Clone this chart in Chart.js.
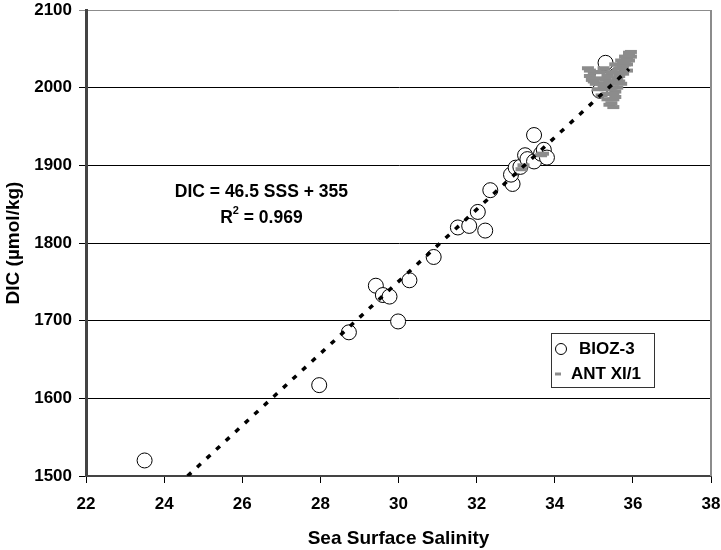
<!DOCTYPE html>
<html>
<head>
<meta charset="utf-8">
<script src="https://cdn.jsdelivr.net/npm/chart.js@4.4.1/dist/chart.umd.min.js"></script>
<style>
html, body { margin: 0; padding: 0; background: #fff; }
</style>
</head>
<body>
<canvas id="chart" width="721" height="550"></canvas>
<script>
// BIOZ-3 stations (open circles)
const biozSss = [23.5, 27.97, 28.73, 29.42, 29.6, 29.77, 29.99, 30.28, 30.9, 31.52, 31.81, 32.03, 32.22, 32.35,
    32.92, 32.88, 33.0, 33.12, 33.24, 33.3, 33.47, 33.47, 33.65, 33.72, 33.8, 35.3, 35.2, 35.55, 35.15];
const biozDic = [1520, 1617, 1685, 1745, 1733, 1731, 1699, 1752, 1782, 1820, 1822, 1840, 1816, 1868,
    1876, 1888, 1897, 1898, 1913, 1908, 1939, 1905, 1915, 1920, 1910, 2032, 2012, 2015, 1996];

// ANT XI/1 underway data (grey dashes)
const antSss = [34.85, 34.9, 34.95, 35.0, 35.05, 35.1, 35.1, 35.15, 35.2, 35.2, 35.25, 35.3, 35.3, 35.35, 35.35,
    35.4, 35.4, 35.45, 35.45, 35.5, 35.5, 35.55, 35.55, 35.6, 35.6, 35.65, 35.65, 35.7, 35.7, 35.75, 35.75,
    35.8, 35.8, 35.85, 35.85, 35.9, 35.9, 35.95, 35.4, 35.5, 35.45, 33.15, 33.2, 33.65, 33.7,
    34.9, 35.0, 35.25, 35.35, 35.45, 35.5, 35.6, 35.7, 35.8, 35.85, 35.9, 35.55, 35.65, 35.75, 35.95];
const antDic = [2025, 2015, 2010, 2020, 2005, 2012, 1998, 2020, 2005, 1990, 2025, 2010, 1998, 1985, 2015,
    1978, 2000, 1992, 2020, 1985, 2005, 2030, 1995, 2012, 2000, 2025, 2015, 2035, 2005, 2028, 2018,
    2040, 2030, 2038, 2022, 2045, 2035, 2040, 2008, 1975, 1980, 1895, 1900, 1913, 1915,
    2022, 2008, 2002, 1992, 2000, 1992, 2020, 2025, 2035, 2030, 2042, 1988, 2008, 2032, 2046];

// regression line end points: DIC = 46.5 SSS + 355
const trendSss = [24.6, 35.9];
const trendDic = [1500, 2024];

const FONT = "'Liberation Sans', Arial, sans-serif";

const toXY = (xs, ys) => xs.map((v, i) => ({x: v, y: ys[i]}));

const extras = {
    id: 'extras',
    afterDraw(chart) {
        const {ctx, chartArea: a, scales: {x, y}} = chart;
        ctx.save();
        // right border of plot area
        ctx.strokeStyle = '#8c8c8c';
        ctx.lineWidth = 2;
        ctx.beginPath();
        ctx.moveTo(a.right, a.top);
        ctx.lineTo(a.right, a.bottom);
        ctx.stroke();

        // equation text
        ctx.fillStyle = '#000';
        ctx.textBaseline = 'middle';
        ctx.textAlign = 'center';
        ctx.font = 'bold 17.5px ' + FONT;
        const cx = x.getPixelForValue(26.49);
        ctx.fillText('DIC = 46.5 SSS + 355', cx, y.getPixelForValue(1866));
        const ry = y.getPixelForValue(1832);
        const p1 = 'R', p3 = ' = 0.969';
        ctx.textAlign = 'left';
        const w1 = ctx.measureText(p1).width, w3 = ctx.measureText(p3).width;
        ctx.font = 'bold 11px ' + FONT;
        const w2 = ctx.measureText('2').width;
        let sx = cx - (w1 + w2 + w3) / 2;
        ctx.font = 'bold 17.5px ' + FONT;
        ctx.fillText(p1, sx, ry);
        ctx.font = 'bold 11px ' + FONT;
        ctx.fillText('2', sx + w1, ry - 7);
        ctx.font = 'bold 17.5px ' + FONT;
        ctx.fillText(p3, sx + w1 + w2, ry);

        // legend box
        const lx = a.right - 160, ly = a.top + 323;
        ctx.strokeStyle = '#333';
        ctx.lineWidth = 1;
        ctx.strokeRect(lx + 0.5, ly + 0.5, 103, 54);
        ctx.beginPath();
        ctx.arc(lx + 10, ly + 16, 5.5, 0, Math.PI * 2);
        ctx.strokeStyle = '#000';
        ctx.stroke();
        ctx.strokeStyle = '#8c8c8c';
        ctx.lineWidth = 3;
        ctx.beginPath();
        ctx.moveTo(lx + 4, ly + 41);
        ctx.lineTo(lx + 10, ly + 41);
        ctx.stroke();
        ctx.fillStyle = '#000';
        ctx.font = 'bold 17px ' + FONT;
        ctx.textAlign = 'left';
        ctx.fillText('BIOZ-3', lx + 28, ly + 16);
        ctx.fillText('ANT XI/1', lx + 20, ly + 41);
        ctx.restore();
    }
};

new Chart(document.getElementById('chart'), {
    type: 'scatter',
    data: {
        datasets: [{
            type: 'line',
            label: 'fit',
            data: toXY(trendSss, trendDic),
            borderColor: '#000',
            borderWidth: 3.5,
            borderDash: [5, 8],
            pointRadius: 0,
            fill: false,
            order: 0
        }, {
            label: 'ANT XI/1',
            data: toXY(antSss, antDic),
            pointStyle: 'line',
            pointRadius: 6,
            borderWidth: 4,
            borderColor: '#8c8c8c',
            backgroundColor: '#8c8c8c',
            order: 1
        }, {
            label: 'BIOZ-3',
            data: toXY(biozSss, biozDic),
            pointStyle: 'circle',
            pointRadius: 7.5,
            borderWidth: 1,
            borderColor: '#000',
            backgroundColor: '#fff',
            order: 2
        }]
    },
    options: {
        responsive: false,
        animation: false,
        layout: {padding: {top: 10, right: 8, left: 0, bottom: 0}},
        plugins: {legend: {display: false}, tooltip: {enabled: false}},
        scales: {
            x: {
                type: 'linear',
                min: 22,
                max: 38,
                ticks: {stepSize: 2, color: '#000', padding: 11, font: {family: FONT, size: 17, weight: 'bold'},
                    callback: v => String(v)},
                grid: {drawOnChartArea: false, tickLength: 7, color: '#000'},
                border: {color: '#444', width: 2},
                title: {display: true, text: 'Sea Surface Salinity', color: '#000', padding: {top: 0, bottom: 0},
                    font: {family: FONT, size: 19, weight: 'bold'}},
                afterFit: s => { s.height = 74; s.paddingLeft = 0; s.paddingRight = 0; }
            },
            y: {
                min: 1500,
                max: 2100,
                ticks: {stepSize: 100, color: '#000', padding: 7, font: {family: FONT, size: 17, weight: 'bold'},
                    callback: v => String(v)},
                grid: {tickLength: 7, color: c => (c.tick && c.tick.value === 2100) ? '#8c8c8c' : '#000'},
                border: {color: '#444', width: 3},
                title: {display: true, text: 'DIC (µmol/kg)', color: '#000', padding: {top: 2, bottom: 0},
                    font: {family: FONT, size: 19, weight: 'bold'}},
                afterFit: s => { s.width = 86; s.paddingTop = 0; s.paddingBottom = 0; }
            }
        }
    },
    plugins: [extras]
});
</script>
</body>
</html>
